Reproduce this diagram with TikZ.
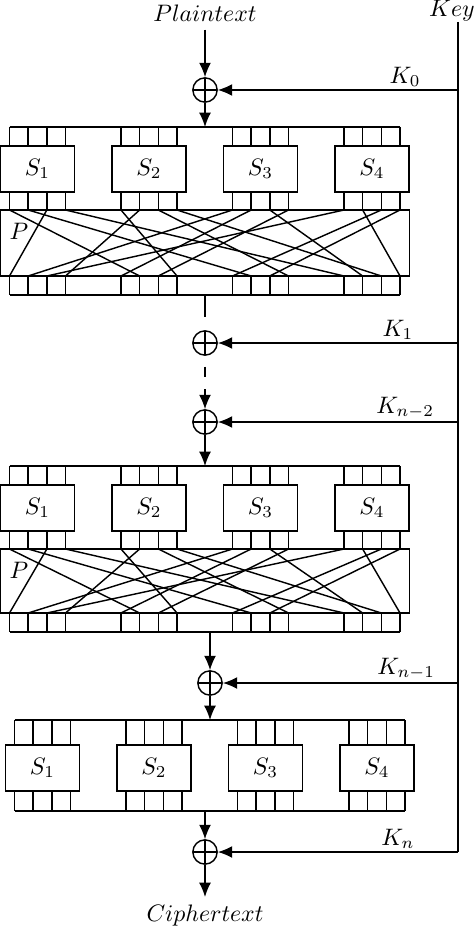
\documentclass[tikz,border=0pt]{standalone}
\usetikzlibrary{arrows.meta}

\tikzset{
	wire/.style={line width=0.6pt},
	sbox/.style={draw, line width=0.6pt, minimum width=31.2pt, minimum height=19.3pt, inner sep=0pt},
	xorgate/.style={circle, draw, line width=0.6pt, minimum size=10.2pt, inner sep=0pt,
		path picture={\draw[line width=0.6pt] (path picture bounding box.north) -- (path picture bounding box.south)
			(path picture bounding box.west) -- (path picture bounding box.east);}},
	flow/.style={line width=0.6pt, -{Latex[length=6pt,width=5pt]}},
	klabel/.style={above, inner sep=1pt}
}

% #1 x shift, #2 register top, #3 S-box top, #4 S-box bottom, #5 lower wire end, #6 row name
\newcommand{\sboxrow}[6]{
	\draw[wire] ({9.5+#1},#2) -- ({400+#1},#2);
	\foreach \i in {0,...,3}{
		\node[sbox] (#6s\i) at ({37.5+111.5*\i+#1},{(#3+#4)/2}) {$S_{\the\numexpr\i+1\relax}$};
		\foreach \j in {0,...,3}{
			\draw[wire] ({9.5+111.5*\i+18.67*\j+#1},#2) -- ({9.5+111.5*\i+18.67*\j+#1},#3)
				({9.5+111.5*\i+18.67*\j+#1},#4) -- ({9.5+111.5*\i+18.67*\j+#1},#5);
		}
	}
}

% #1 P top, #2 P bottom, #3 register bottom, #4 row name
\newcommand{\pboxrow}[4]{
	\draw[wire] (0.7,#1) rectangle (409.3,#2);
	\node (#4p) at (19,{#1+21}) {$P$};
	\foreach \a/\b in {0/5,1/9,2/0,3/12,4/7,5/3,6/11,7/14,8/1,9/4,10/13,11/6,12/2,13/15,14/8,15/10}{
		\draw[wire] ({9.5+111.5*int(\a/4)+18.67*mod(\a,4)},#1) -- ({9.5+111.5*int(\b/4)+18.67*mod(\b,4)},#2);
	}
	\foreach \k in {0,...,15}{
		\draw[wire] ({9.5+111.5*int(\k/4)+18.67*mod(\k,4)},#2) -- ({9.5+111.5*int(\k/4)+18.67*mod(\k,4)},#3);
	}
	\draw[wire] (9.5,#3) -- (400,#3);
}

\begin{document}
\begin{tikzpicture}[x=0.42pt,y=-0.42pt]
	\useasboundingbox (0,0) rectangle (474,929);

	\node (pt) at (205,13) {$Plaintext$};
	\node (key) at (452,11) {$Key$};
	\node (ct) at (205,916) {$Ciphertext$};

	\node[xorgate] (x0) at (205,90) {};
	\node[xorgate] (x1) at (205,343) {};
	\node[xorgate] (x2) at (205,422) {};
	\node[xorgate] (x3) at (210,683) {};
	\node[xorgate] (x4) at (205,852) {};

	\sboxrow{0}{127}{146}{192}{210}{a}
	\pboxrow{210}{276}{295}{a}
	\sboxrow{0}{466}{485}{531}{549}{b}
	\pboxrow{549}{613}{632}{b}
	\sboxrow{5}{720}{745}{791}{811}{c}
	\draw[wire] (14.5,811) -- (405,811);

	\coordinate (r1in) at (205,127);
	\coordinate (r1out) at (205,295);
	\coordinate (r2in) at (205,466);
	\coordinate (r2out) at (210,632);
	\coordinate (r3in) at (210,720);
	\coordinate (r3out) at (205,811);

	\draw[flow] (pt) -- (x0);
	\draw[flow] (x0) -- (r1in);
	\draw[wire, dash pattern=on 9.2pt off 6pt] (r1out) -- (x1);
	\draw[flow, dash pattern=on 4.5pt off 5pt, dash phase=5pt] (x1) -- (x2);
	\draw[flow] (x2) -- (r2in);
	\draw[flow] (r2out) -- (x3);
	\draw[flow] (x3) -- (r3in);
	\draw[flow] (r3out) -- (x4);
	\draw[flow] (x4) -- (ct);

	\coordinate (ktop) at (458,22);
	\coordinate (k0) at (458,90);
	\coordinate (k1) at (458,343);
	\coordinate (k2) at (458,422);
	\coordinate (k3) at (458,683);
	\coordinate (k4) at (458,852);
	\draw[wire] (ktop) -- (k4);
	\draw[flow] (k0) -- (x0) node[klabel, pos=0.22] {$K_0$};
	\draw[flow] (k1) -- (x1) node[klabel, pos=0.25] {$K_1$};
	\draw[flow] (k2) -- (x2) node[klabel, pos=0.22] {$K_{n-2}$};
	\draw[flow] (k3) -- (x3) node[klabel, pos=0.22] {$K_{n-1}$};
	\draw[flow] (k4) -- (x4) node[klabel, pos=0.25] {$K_n$};
\end{tikzpicture}
\end{document}
